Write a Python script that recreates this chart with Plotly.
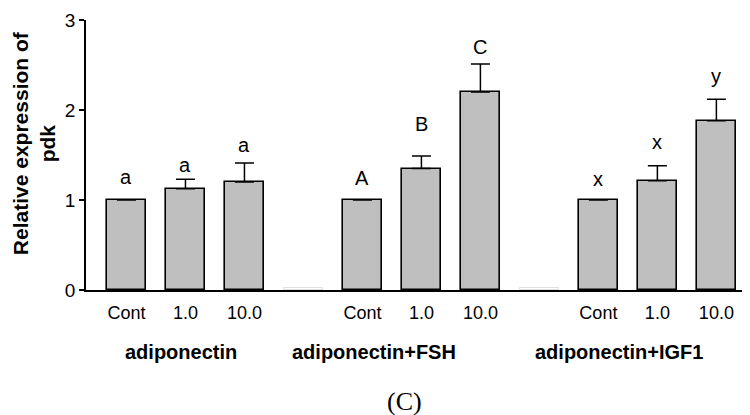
import plotly.graph_objects as go

groups = ["adiponectin", "adiponectin+FSH", "adiponectin+IGF1"]
doses = ["Cont", "1.0", "10.0"]
means = [[1.00, 1.125, 1.20], [1.00, 1.35, 2.20], [1.00, 1.215, 1.88]]
err_up = [[0.0, 0.105, 0.21], [0.0, 0.14, 0.31], [0.0, 0.165, 0.24]]
letters = [["a", "a", "a"], ["A", "B", "C"], ["x", "x", "y"]]
yticks = [0, 1, 2, 3]

# layout constants (pixel gaps between bar/error top and letter)
letter_gap_px = [[15, 6, 10], [14, 24, 9], [13, 16, 15]]
slot = 4  # 3 bars + 1 gap per group
group_label_x = [0.92, 4.2, 8.35]
FONT = "Arial, Liberation Sans, Helvetica, sans-serif"

xs, ys, es, ticks_x, ticks_t, lets, gaps = [], [], [], [], [], [], []
for g in range(len(groups)):
    for d in range(len(doses)):
        x = g * slot + d
        xs.append(x)
        ys.append(means[g][d])
        es.append(err_up[g][d])
        ticks_x.append(x)
        ticks_t.append(doses[d])
        lets.append(letters[g][d])
        gaps.append(letter_gap_px[g][d])

gap_x = [g * slot + 3 for g in range(len(groups) - 1)]

fig = go.Figure()
fig.add_trace(go.Bar(
    x=gap_x, y=[0.02] * len(gap_x), width=0.66,
    marker=dict(color="white", line=dict(color="#e0e0e0", width=1)),
    hoverinfo="skip", showlegend=False))
fig.add_trace(go.Bar(
    x=xs, y=ys, width=0.66,
    marker=dict(color="#bfbfbf", line=dict(color="black", width=1.6)),
    error_y=dict(type="data", symmetric=False,
                 array=[e if e > 0 else None for e in es],
                 arrayminus=[0] * len(es), color="black",
                 thickness=1.5, width=9.5),
    showlegend=False))

for x, y, e, t, gp in zip(xs, ys, es, lets, gaps):
    fig.add_annotation(x=x, y=y + e, text=t, showarrow=False,
                       yanchor="bottom", yshift=gp - 5,
                       font=dict(family=FONT, size=20, color="black"))

for gx, gname in zip(group_label_x, groups):
    fig.add_annotation(x=gx, y=-0.23, yref="paper", text="<b>" + gname + "</b>",
                       showarrow=False, yanchor="middle",
                       font=dict(family=FONT, size=20, color="black"))

fig.add_annotation(x=-0.0783, xref="paper", y=0.544, yref="paper",
                   text="<b>Relative expression of<br>pdk</b>", textangle=-90,
                   showarrow=False, xanchor="center", yanchor="middle",
                   font=dict(family=FONT, size=21, color="black"))

fig.add_annotation(x=0.479, xref="paper", xanchor="center", y=-0.412, yref="paper",
                   text="(C)", showarrow=False, yanchor="middle",
                   font=dict(family="Liberation Serif, Times New Roman, serif", size=26, color="black"))

fig.update_layout(
    width=742, height=407,
    margin=dict(l=78, r=0, t=12, b=125),
    plot_bgcolor="white", paper_bgcolor="white",
    bargap=0,
    font=dict(family=FONT, color="black"),
)
fig.update_xaxes(range=[-0.686, 10.57], tickvals=ticks_x, ticktext=ticks_t,
                 showline=True, linecolor="black", linewidth=1.5,
                 ticks="outside", ticklen=6, tickcolor="rgba(0,0,0,0)",
                 showgrid=False, zeroline=False,
                 tickfont=dict(size=18, color="black"))
fig.update_yaxes(range=[0, 3], tickvals=yticks, ticks="outside", ticklen=5,
                 tickwidth=1.5, tickcolor="black",
                 showline=True, linecolor="black", linewidth=1.5,
                 showgrid=False, zeroline=False,
                 tickfont=dict(size=19, color="black"))

fig.write_html("out.html")
